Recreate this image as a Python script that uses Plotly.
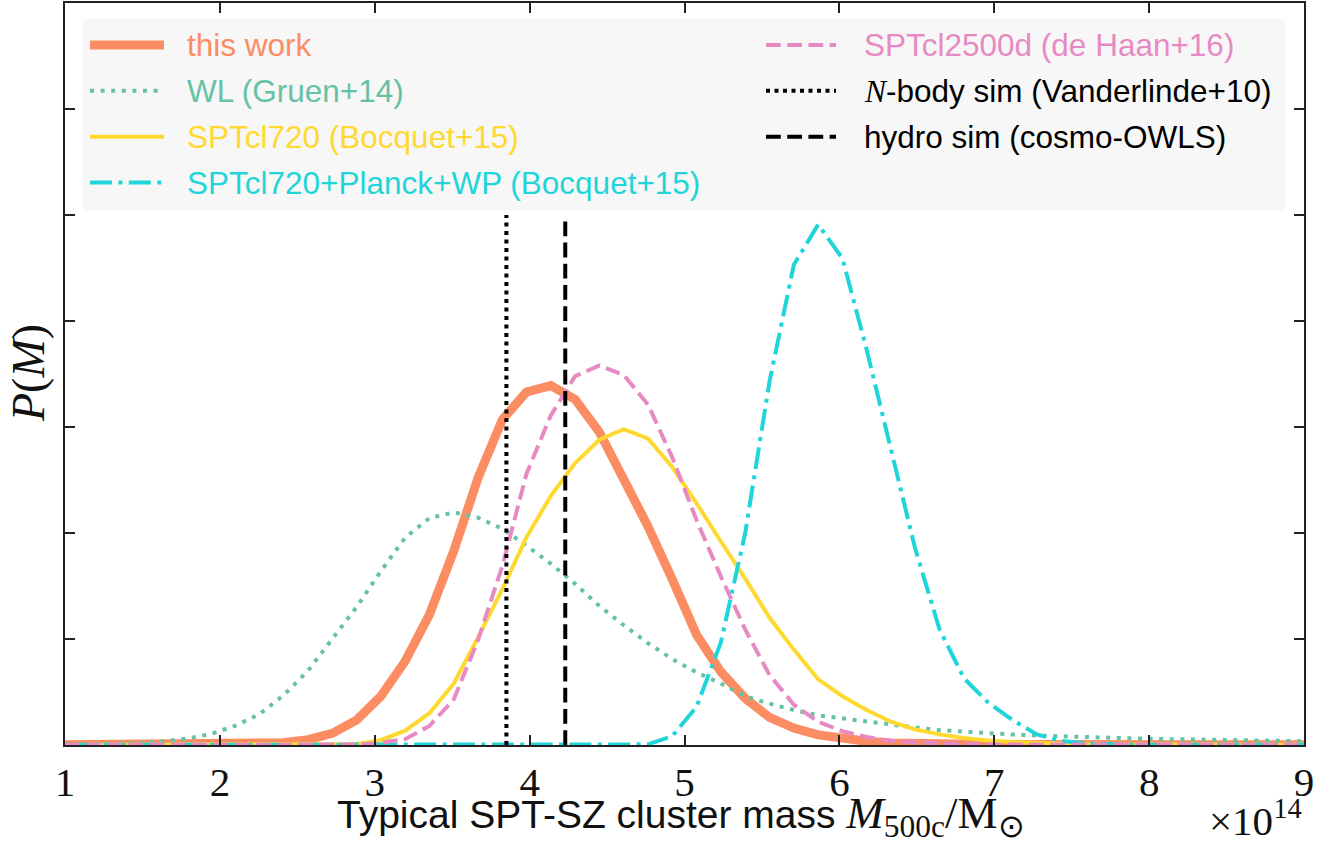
import plotly.graph_objects as go

# Mass grid (units of 1e14 M_sun) on which every posterior is sampled
mass = [1.000, 1.157, 1.314, 1.471, 1.627, 1.784, 1.941, 2.098, 2.255, 2.412,
        2.569, 2.725, 2.882, 3.039, 3.196, 3.353, 3.510, 3.667, 3.824, 3.980,
        4.137, 4.294, 4.451, 4.608, 4.765, 4.922, 5.078, 5.235, 5.392, 5.549,
        5.706, 5.863, 6.020, 6.176, 6.333, 6.490, 6.647, 6.804, 6.961, 7.118,
        7.275, 7.431, 7.588, 7.745, 7.902, 8.059, 8.216, 8.373, 8.529, 8.686,
        8.843, 9.000]

# P(M), arbitrary normalisation
p_this_work = [0.002, 0.002, 0.003, 0.003, 0.004, 0.005, 0.006, 0.008, 0.012, 0.022,
               0.05, 0.11, 0.235, 0.46, 0.79, 1.23, 1.83, 2.52, 3.07, 3.33,
               3.39, 3.26, 2.95, 2.52, 2.06, 1.56, 1.04, 0.69, 0.44, 0.26,
               0.16, 0.095, 0.06, 0.035, 0.02, 0.012, 0.008, 0.006, 0.005, 0.004,
               0.004, 0.003, 0.003, 0.003, 0.002, 0.002, 0.002, 0.002, 0.002, 0.002,
               0.002, 0.002]

p_wl = [0.003, 0.005, 0.011, 0.019, 0.033, 0.06, 0.104, 0.18, 0.29, 0.47,
        0.70, 1.00, 1.30, 1.64, 1.955, 2.14, 2.195, 2.145, 2.04, 1.88,
        1.71, 1.52, 1.31, 1.13, 0.96, 0.81, 0.685, 0.58, 0.46, 0.39,
        0.33, 0.28, 0.25, 0.216, 0.19, 0.165, 0.14, 0.124, 0.11, 0.099,
        0.089, 0.08, 0.073, 0.067, 0.062, 0.057, 0.053, 0.049, 0.045, 0.042,
        0.039, 0.036]

p_sptcl720 = [0.001, 0.001, 0.001, 0.001, 0.001, 0.001, 0.001, 0.001, 0.001, 0.001,
              0.001, 0.003, 0.01, 0.045, 0.135, 0.30, 0.58, 1.015, 1.47, 1.96,
              2.35, 2.66, 2.88, 2.98, 2.89, 2.62, 2.28, 1.92, 1.57, 1.20,
              0.90, 0.62, 0.46, 0.33, 0.22, 0.146, 0.10, 0.066, 0.042, 0.028,
              0.019, 0.012, 0.008, 0.005, 0.004, 0.004, 0.003, 0.003, 0.002, 0.002,
              0.002, 0.002]

p_sptcl720_planck = [0.001, 0.001, 0.001, 0.001, 0.001, 0.001, 0.001, 0.001, 0.001, 0.001,
                     0.001, 0.001, 0.001, 0.001, 0.001, 0.001, 0.001, 0.001, 0.001, 0.001,
                     0.001, 0.001, 0.002, 0.002, 0.006, 0.085, 0.36, 0.97, 2.0, 3.43,
                     4.53, 4.91, 4.59, 3.73, 2.80, 1.85, 1.09, 0.63, 0.40, 0.235,
                     0.10, 0.04, 0.015, 0.006, 0.003, 0.002, 0.002, 0.001, 0.001, 0.001,
                     0.001, 0.001]

p_sptcl2500d = [0.001, 0.001, 0.001, 0.001, 0.001, 0.001, 0.001, 0.001, 0.001, 0.001,
                0.001, 0.001, 0.004, 0.02, 0.055, 0.18, 0.43, 0.99, 1.69, 2.56,
                3.11, 3.48, 3.58, 3.49, 3.21, 2.71, 2.12, 1.59, 1.09, 0.66,
                0.38, 0.22, 0.13, 0.075, 0.04, 0.025, 0.015, 0.01, 0.006, 0.005,
                0.004, 0.003, 0.003, 0.002, 0.002, 0.002, 0.002, 0.002, 0.002, 0.002,
                0.002, 0.002]

# Simulation-based typical masses (units of 1e14 M_sun) and the drawn line height
m_nbody = 3.85
m_hydro = 4.23
sim_line_top = 5.0

ORANGE = "#FC8D62"
TEAL = "#66C2A5"
YELLOW = "#FFD92F"
CYAN = "#1FD5D9"
PINK = "#E78AC3"
BLACK = "#000000"

# (name, y, colour, width, dash)
series = [
    ("this work", p_this_work, ORANGE, 9, "solid"),
    ("WL (Gruen+14)", p_wl, TEAL, 4, "4px,6.6px"),
    ("SPTcl720 (Bocquet+15)", p_sptcl720, YELLOW, 4, "solid"),
    ("SPTcl720+Planck+WP (Bocquet+15)", p_sptcl720_planck, CYAN, 4,
     "22px,6.4px,4px,6.4px"),
    ("SPTcl2500d (de Haan+16)", p_sptcl2500d, PINK, 4, "14.8px,6.4px"),
]
DOT_BLACK = "4px,4.5px"
DASH_BLACK = "14.8px,6.4px"

fig = go.Figure()
for name, y, col, w, dash in series:
    fig.add_trace(go.Scatter(x=mass, y=y, mode="lines", name=name, showlegend=False,
                             line=dict(color=col, width=w, dash=dash)))

fig.add_trace(go.Scatter(x=[m_nbody, m_nbody], y=[0, sim_line_top], mode="lines",
                         showlegend=False, line=dict(color=BLACK, width=4, dash=DOT_BLACK)))
fig.add_trace(go.Scatter(x=[m_hydro, m_hydro], y=[0, sim_line_top], mode="lines",
                         showlegend=False, line=dict(color=BLACK, width=4, dash=DASH_BLACK)))

W, H = 1339, 841
L, R, T, B = 65, 35, 1, 96
PW, PH = W - L - R, H - T - B


def fx(px):
    return (px - L) / PW


def fy(py):
    return (H - B - py) / PH


# Legend panel
x0, x1, y0, y1, r = 82, 1286, 17, 209, 7
path = (f"M {fx(x0 + r)},{fy(y0)} L {fx(x1 - r)},{fy(y0)} "
        f"Q {fx(x1)},{fy(y0)} {fx(x1)},{fy(y0 + r)} L {fx(x1)},{fy(y1 - r)} "
        f"Q {fx(x1)},{fy(y1)} {fx(x1 - r)},{fy(y1)} L {fx(x0 + r)},{fy(y1)} "
        f"Q {fx(x0)},{fy(y1)} {fx(x0)},{fy(y1 - r)} L {fx(x0)},{fy(y0 + r)} "
        f"Q {fx(x0)},{fy(y0)} {fx(x0 + r)},{fy(y0)} Z")
shapes = [dict(type="path", path=path, xref="paper", yref="paper",
               fillcolor="#F7F7F7", line=dict(width=0), layer="above")]

nbody_label = ('<span style="font-family:\'Liberation Serif\'"><i>N</i></span>'
               '-body sim (Vanderlinde+10)')
legend_items = [
    # column 1
    (90, 164, 185, 43, "this work", ORANGE, ORANGE, 9, "solid"),
    (90, 164, 185, 89, "WL (Gruen+14)", TEAL, TEAL, 4, "4px,6.6px"),
    (90, 164, 185, 135, "SPTcl720 (Bocquet+15)", YELLOW, YELLOW, 4, "solid"),
    (90, 164, 185, 181, "SPTcl720+Planck+WP (Bocquet+15)", CYAN, CYAN, 4,
     "22px,6.4px,4px,6.4px"),
    # column 2
    (766, 836, 862, 43, "SPTcl2500d (de Haan+16)", PINK, PINK, 4, "14.8px,6.4px"),
    (766, 836, 862, 89, nbody_label, BLACK, BLACK, 4, DOT_BLACK),
    (766, 836, 862, 135, "hydro sim (cosmo-OWLS)", BLACK, BLACK, 4, DASH_BLACK),
]

annotations = []
for lx0, lx1, tx, ry, text, lcol, tcol, lw, dash in legend_items:
    shapes.append(dict(type="line", xref="paper", yref="paper",
                       x0=fx(lx0), x1=fx(lx1), y0=fy(ry), y1=fy(ry),
                       line=dict(color=lcol, width=lw, dash=dash), layer="above"))
    annotations.append(dict(text=text, xref="paper", yref="paper", x=fx(tx), y=fy(ry),
                            xanchor="left", yanchor="middle", showarrow=False,
                            font=dict(family="Liberation Sans", size=31.5, color=tcol)))

# Axis titles
annotations.append(dict(
    text=('Typical SPT-SZ cluster mass '
          '<span style="font-family:\'Liberation Serif\'; font-size:45px">'
          '<i>M</i><sub>500c</sub>/M<sub>⊙</sub></span>'),
    xref="paper", yref="paper", x=fx(335), y=fy(816), xanchor="left", yanchor="middle",
    showarrow=False, font=dict(family="Liberation Sans", size=39, color="#111111")))
annotations.append(dict(
    text="×10<sup>14</sup>", xref="paper", yref="paper", x=fx(1304), y=fy(818),
    xanchor="right", yanchor="middle", showarrow=False,
    font=dict(family="Liberation Serif", size=41, color="#111111")))
annotations.append(dict(
    text="<i>P</i>(<i>M</i>)", xref="paper", yref="paper", x=fx(28), y=fy(372),
    xanchor="center", yanchor="middle", textangle=-90, showarrow=False,
    font=dict(family="Liberation Serif", size=46, color="#111111")))

axis_common = dict(showgrid=False, zeroline=False, showline=True, linecolor="#222222",
                   linewidth=1.6, mirror="ticks", ticks="inside", ticklen=10,
                   tickwidth=1.6, tickcolor="#222222")

fig.update_layout(
    width=W, height=H,
    margin=dict(l=L, r=R, t=T, b=B),
    paper_bgcolor="white", plot_bgcolor="white",
    xaxis=dict(range=[1, 9], dtick=1, tick0=1,
               tickfont=dict(family="Liberation Serif", size=41, color="#111111"),
               **axis_common),
    yaxis=dict(range=[0, 7], dtick=1, tick0=0, showticklabels=False, **axis_common),
    shapes=shapes,
    annotations=annotations,
    showlegend=False,
)

fig.write_html("out.html")
